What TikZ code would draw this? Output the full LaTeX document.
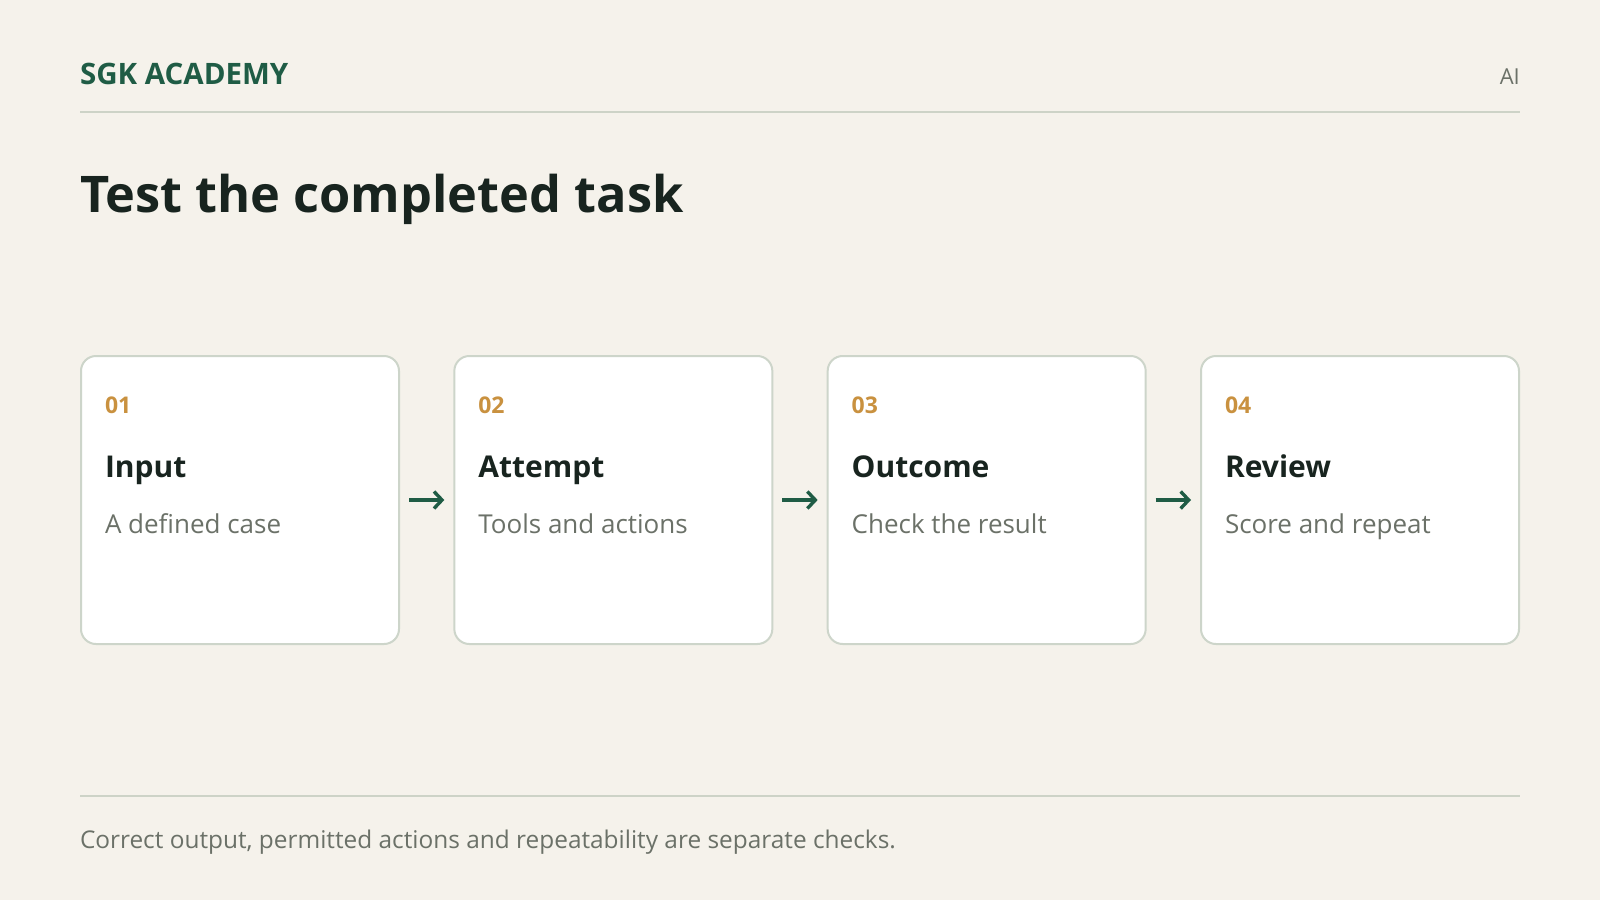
\documentclass[tikz,border=0pt]{standalone}
\usepackage{fontspec}
\setmainfont{Open Sans}
\usetikzlibrary{arrows.meta}
\definecolor{bg}{HTML}{F5F2EB}
\definecolor{brand}{HTML}{1F5C45}
\definecolor{ink}{HTML}{18241F}
\definecolor{gold}{HTML}{C9913F}
\definecolor{muted}{HTML}{6B7168}
\definecolor{rulec}{HTML}{CDD3C7}
\definecolor{cardline}{HTML}{CDD5CA}
\tikzset{
  txt/.style={anchor=base west, inner sep=0pt, outer sep=0pt},
  card/.style={draw=cardline, line width=2pt, fill=white, rounded corners=15pt,
    minimum width=318pt, minimum height=288pt, anchor=north west, inner sep=0pt, outer sep=0pt},
  numtxt/.style={txt, text=gold, font=\fontsize{23}{27}\selectfont\bfseries},
  headtxt/.style={txt, text=ink, font=\fontsize{30}{36}\selectfont\bfseries},
  subtxt/.style={txt, text=muted, font=\fontsize{26}{31}\selectfont},
  flow/.style={draw=brand, line width=3.4pt, shorten <=10pt, shorten >=10pt,
    -{Straight Barb[length=8pt,width=17pt]}},
  rulestyle/.style={draw=rulec, line width=2pt}
}
\begin{document}
\begin{tikzpicture}[x=1pt,y=-1pt]
\fill[bg] (0,0) rectangle (1600,900);
\useasboundingbox (0,0) rectangle (1600,900);
\node[txt, text=brand, font=\fontsize{29.5}{34}\selectfont\bfseries] (brand) at (80,84) {SGK ACADEMY};
\node[anchor=base east, inner sep=0pt, text=muted, font=\fontsize{22}{26}\selectfont] (ai) at (1520,84) {AI};
\coordinate (r1a) at (80,111.5);
\coordinate (r1b) at (1520,111.5);
\draw[rulestyle] (r1a) -- (r1b);
\node[txt, text=ink, font=\fontsize{50.5}{58}\selectfont\bfseries] (title) at (80,212) {Test the completed task};
\foreach \i/\x/\n/\h/\s in {1/80/01/Input/A defined case,
                            2/453.33/02/Attempt/Tools and actions,
                            3/826.67/03/Outcome/Check the result,
                            4/1200/04/Review/Score and repeat}{
  \node[card] (c\i) at (\x+1,356) {};
  \node[numtxt] (n\i) at (\x+25,413) {\n};
  \node[headtxt] (h\i) at (\x+25,477) {\h};
  \node[subtxt] (s\i) at (\x+25,533) {\s};
}
\draw[flow] (c1.east) -- (c2.west);
\draw[flow] (c2.east) -- (c3.west);
\draw[flow] (c3.east) -- (c4.west);
\coordinate (r2a) at (80,795.5);
\coordinate (r2b) at (1520,795.5);
\draw[rulestyle] (r2a) -- (r2b);
\node[txt, text=muted, font=\fontsize{24.4}{29}\selectfont] (foot) at (80,848) {Correct output, permitted actions and repeatability are separate checks.};
\end{tikzpicture}
\end{document}
